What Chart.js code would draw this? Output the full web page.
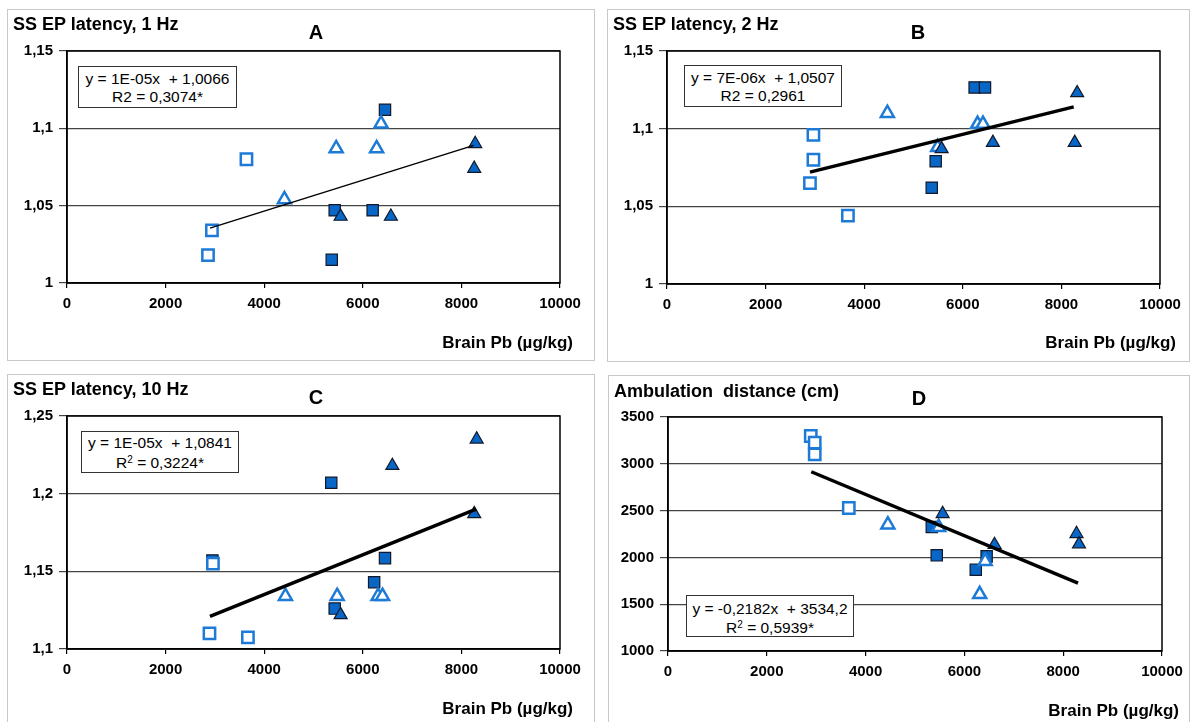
<!DOCTYPE html>
<html>
<head>
<meta charset="utf-8">
<script src="https://cdn.jsdelivr.net/npm/chart.js@4"></script>
<style>
  body { margin: 0; background: #fff; width: 1193px; height: 722px; overflow: hidden; position: relative; font-family: "Liberation Sans", Arial, sans-serif; }
  .panel { position: absolute; box-sizing: border-box; border: 1.5px solid #c8c8c8; }
  canvas { position: absolute; }
  .t { position: absolute; white-space: pre; color: #000; line-height: 1; }
  .ttl { font-size: 18px; font-weight: bold; }
  .let { font-size: 20px; font-weight: bold; width: 100px; text-align: center; }
  .axt { font-size: 17px; font-weight: bold; width: 220px; text-align: right; }
  .eq { position: absolute; box-sizing: border-box; border: 1.5px solid #333; background: #fff; font-size: 15.5px; text-align: center; white-space: pre; line-height: 18px; padding-top: 3px; }
  .eq sup { font-size: 10px; line-height: 0; vertical-align: 5px; }
</style>
</head>
<body>

<div class="panel" style="left:7px;top:9px;width:588px;height:352px"></div>
<div class="panel" style="left:607px;top:9px;width:583px;height:353px"></div>
<div class="panel" style="left:7px;top:374px;width:588px;height:360px"></div>
<div class="panel" style="left:608px;top:375px;width:582px;height:360px"></div>

<canvas id="chartA" width="588" height="350" style="left:7px;top:9px"></canvas>
<canvas id="chartB" width="583" height="350" style="left:607px;top:9px"></canvas>
<canvas id="chartC" width="588" height="348" style="left:7px;top:374px"></canvas>
<canvas id="chartD" width="582" height="347" style="left:608px;top:375px"></canvas>

<div class="t ttl" style="left:13px;top:15px">SS EP latency, 1 Hz</div>
<div class="t ttl" style="left:613px;top:15px">SS EP latency, 2 Hz</div>
<div class="t ttl" style="left:13px;top:380px">SS EP latency, 10 Hz</div>
<div class="t ttl" style="left:614px;top:382px">Ambulation  distance (cm)</div>

<div class="t let" style="left:266px;top:22px">A</div>
<div class="t let" style="left:868px;top:22px">B</div>
<div class="t let" style="left:266px;top:387px">C</div>
<div class="t let" style="left:869px;top:388px">D</div>

<div class="t axt" style="left:353px;top:334px">Brain Pb (µg/kg)</div>
<div class="t axt" style="left:956px;top:334px">Brain Pb (µg/kg)</div>
<div class="t axt" style="left:353px;top:700px">Brain Pb (µg/kg)</div>
<div class="t axt" style="left:959px;top:702px">Brain Pb (µg/kg)</div>

<div class="eq" style="left:78px;top:66px;width:159px;height:42px">y = 1E-05x  + 1,0066
R2 = 0,3074*</div>
<div class="eq" style="left:684px;top:65px;width:158px;height:42px">y = 7E-06x  + 1,0507
R2 = 0,2961</div>
<div class="eq" style="left:81px;top:431px;width:158px;height:42px;line-height:20px;padding-top:1px">y = 1E-05x  + 1,0841
R<sup>2</sup> = 0,3224*</div>
<div class="eq" style="left:686px;top:595px;width:168px;height:42px;line-height:19px;padding-top:3px">y = -0,2182x  + 3534,2
R<sup>2</sup> = 0,5939*</div>

<script>
// Panel A - SS EP latency, 1 Hz
const aOpenSqX = [2860, 2940, 3640];
const aOpenSqY = [1.018, 1.034, 1.080];
const aOpenTriX = [4410, 5460, 6280, 6370];
const aOpenTriY = [1.054, 1.087, 1.087, 1.103];
const aFillSqX = [5370, 5430, 6200, 6450];
const aFillSqY = [1.015, 1.047, 1.047, 1.112];
const aFillTriX = [5550, 6570, 8260, 8280];
const aFillTriY = [1.043, 1.043, 1.074, 1.090];
const aTrendX = [2900, 8250];
const aTrendY = [1.0355, 1.0890];

// Panel B - SS EP latency, 2 Hz
const bOpenSqX = [2900, 2970, 2970, 3670];
const bOpenSqY = [1.065, 1.080, 1.096, 1.044];
const bOpenTriX = [4470, 5490, 6300, 6410];
const bOpenTriY = [1.110, 1.088, 1.103, 1.103];
const bFillSqX = [5370, 5450, 6240, 6450];
const bFillSqY = [1.062, 1.079, 1.1265, 1.1265];
const bFillTriX = [5570, 6610, 8270, 8320];
const bFillTriY = [1.087, 1.091, 1.091, 1.123];
const bTrendX = [2900, 8250];
const bTrendY = [1.0720, 1.1140];

// Panel C - SS EP latency, 10 Hz
const cOpenSqX = [2890, 2960, 3670];
const cOpenSqY = [1.110, 1.155, 1.1075];
const cOpenTriX = [4430, 5480, 6310, 6400];
const cOpenTriY = [1.134, 1.134, 1.134, 1.134];
const cFillSqX = [2950, 5360, 5430, 6230, 6450];
const cFillSqY = [1.157, 1.207, 1.126, 1.143, 1.1585];
const cFillTriX = [5550, 6600, 8260, 8310];
const cFillTriY = [1.122, 1.218, 1.187, 1.235];
const cTrendX = [2900, 8300];
const cTrendY = [1.1210, 1.1900];

// Panel D - Ambulation distance
const dOpenSqX = [2890, 2970, 2970, 3660];
const dOpenSqY = [3297, 3226, 3101, 2528];
const dOpenTriX = [4450, 5480, 6310, 6420];
const dOpenTriY = [2350, 2322, 1605, 1960];
const dFillSqX = [5340, 5440, 6230, 6450];
const dFillSqY = [2325, 2022, 1869, 2011];
const dFillTriX = [5560, 6610, 8270, 8320];
const dFillTriY = [2466, 2135, 2252, 2142];
const dTrendX = [2900, 8300];
const dTrendY = [2915, 1725];

const xTicks = [0, 2000, 4000, 6000, 8000, 10000];

const fillBlue = "#0866c6";
const openBlue = "#1d7ad6";
const font = "'Liberation Sans', Arial, sans-serif";

function pts(xs, ys) {
  return xs.map(function (x, i) {
    return { x: x, y: ys[i] };
  });
}

// draws the top and right edges of the plot box
const framePlugin = {
  id: "frame",
  beforeDatasetsDraw: function (chart) {
    const a = chart.chartArea;
    const ctx = chart.ctx;
    ctx.save();
    ctx.strokeStyle = "#000";
    ctx.lineWidth = 1.5;
    ctx.strokeRect(a.left, a.top, a.right - a.left, a.bottom - a.top);
    ctx.restore();
  },
};

function commaFmt(v) {
  return String(Math.round(v * 100) / 100).replace(".", ",");
}
function plainFmt(v) {
  return String(Math.round(v));
}

function makePanel(id, d, yMin, yMax, yStep, fmt, trendWidth, pad, xH) {
  new Chart(document.getElementById(id), {
    type: "scatter",
    data: {
      datasets: [
        {
          type: "line",
          data: pts(d.trendX, d.trendY),
          borderColor: "#000",
          borderWidth: trendWidth,
          pointRadius: 0,
          fill: false,
        },
        {
          data: pts(d.openSqX, d.openSqY),
          pointStyle: "rect",
          pointRadius: 8,
          backgroundColor: "#fff",
          borderColor: openBlue,
          borderWidth: 2.5,
        },
        {
          data: pts(d.fillTriX, d.fillTriY),
          pointStyle: "triangle",
          pointRadius: 7.5,
          backgroundColor: fillBlue,
          borderColor: "#10182a",
          borderWidth: 1.2,
        },
        {
          data: pts(d.openTriX, d.openTriY),
          pointStyle: "triangle",
          pointRadius: 7.5,
          backgroundColor: "#fff",
          borderColor: openBlue,
          borderWidth: 2.5,
        },
        {
          data: pts(d.fillSqX, d.fillSqY),
          pointStyle: "rect",
          pointRadius: 8,
          backgroundColor: fillBlue,
          borderColor: "#10182a",
          borderWidth: 1.2,
        },
      ],
    },
    options: {
      responsive: false,
      animation: false,
      devicePixelRatio: 1,
      layout: { padding: { top: pad.top, right: pad.right, left: 0, bottom: 0 } },
      plugins: { legend: { display: false }, tooltip: { enabled: false } },
      scales: {
        x: {
          type: "linear",
          min: 0,
          max: 10000,
          afterBuildTicks: function (s) {
            s.ticks = xTicks.map(function (v) { return { value: v }; });
          },
          afterFit: function (s) { s.height = xH; },
          grid: { drawOnChartArea: false, color: "#000", tickLength: 5, lineWidth: 1.2 },
          border: { color: "#000", width: 1.5 },
          ticks: {
            color: "#000",
            padding: 7,
            maxRotation: 0,
            autoSkip: false,
            font: { family: font, size: 15, weight: "bold" },
            callback: plainFmt,
          },
        },
        y: {
          min: yMin,
          max: yMax,
          afterFit: function (s) { s.width = 60; },
          grid: { color: "#444", tickLength: 8, lineWidth: 1.2 },
          border: { color: "#000", width: 1.5 },
          ticks: {
            stepSize: yStep,
            color: "#000",
            padding: 6,
            font: { family: font, size: 15, weight: "bold" },
            callback: fmt,
          },
        },
      },
    },
    plugins: [framePlugin],
  });
}

makePanel("chartA", {
  openSqX: aOpenSqX, openSqY: aOpenSqY, openTriX: aOpenTriX, openTriY: aOpenTriY,
  fillSqX: aFillSqX, fillSqY: aFillSqY, fillTriX: aFillTriX, fillTriY: aFillTriY,
  trendX: aTrendX, trendY: aTrendY,
}, 1, 1.15, 0.05, commaFmt, 1.5, { top: 42, right: 35 }, 76);

makePanel("chartB", {
  openSqX: bOpenSqX, openSqY: bOpenSqY, openTriX: bOpenTriX, openTriY: bOpenTriY,
  fillSqX: bFillSqX, fillSqY: bFillSqY, fillTriX: bFillTriX, fillTriY: bFillTriY,
  trendX: bTrendX, trendY: bTrendY,
}, 1, 1.15, 0.05, commaFmt, 3.5, { top: 42, right: 30 }, 75);

makePanel("chartC", {
  openSqX: cOpenSqX, openSqY: cOpenSqY, openTriX: cOpenTriX, openTriY: cOpenTriY,
  fillSqX: cFillSqX, fillSqY: cFillSqY, fillTriX: cFillTriX, fillTriY: cFillTriY,
  trendX: cTrendX, trendY: cTrendY,
}, 1.1, 1.25, 0.05, commaFmt, 3.5, { top: 42, right: 35 }, 73);

makePanel("chartD", {
  openSqX: dOpenSqX, openSqY: dOpenSqY, openTriX: dOpenTriX, openTriY: dOpenTriY,
  fillSqX: dFillSqX, fillSqY: dFillSqY, fillTriX: dFillTriX, fillTriY: dFillTriY,
  trendX: dTrendX, trendY: dTrendY,
}, 1000, 3500, 500, plainFmt, 3.5, { top: 42, right: 28 }, 71);
</script>
</body>
</html>
